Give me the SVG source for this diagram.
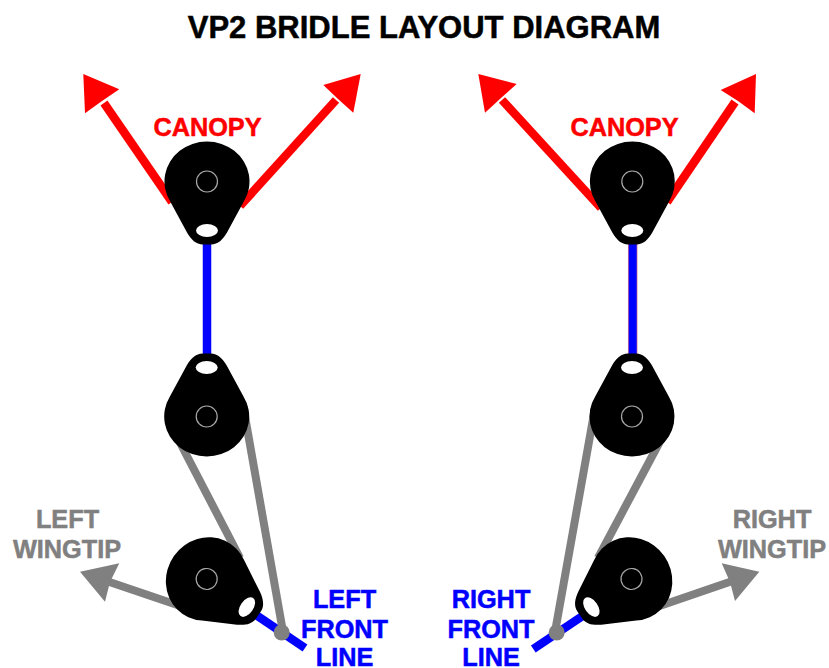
<svg xmlns="http://www.w3.org/2000/svg" width="829" height="668" viewBox="0 0 829 668">
<style>
text{font-family:"Liberation Sans",Arial,sans-serif;font-weight:700;text-anchor:middle;font-size:25.3px;stroke-width:.5px}
.title{font-size:31px;fill:#000;stroke:#000}
.r{fill:#f00;stroke:#f00}.g{fill:#808080;stroke:#808080}.b{fill:#00f;stroke:#00f}
.ar{fill:#f00}.ag{fill:#808080}
.lr{stroke:#f00;stroke-width:8.5;fill:none}
.lg{stroke:#808080;stroke-width:8;fill:none}
.lb{stroke:#00f;stroke-width:8.5;fill:none}
.ring{fill:none;stroke:#a8a8a8;stroke-width:1.2}
.hole{fill:#fff}
</style>
<defs>
<g id="block">
<path d="M-36.8,20 A42.5,40 0 1 1 36.8,20 L20,51 C16,58 11,63 4,63 L-4,63 C-11,63 -16,58 -20,51 Z" fill="#000"/>
<circle class="ring" r="10.5"/>
<ellipse class="hole" cy="49" rx="11" ry="6.5"/>
</g>
</defs>
<rect width="829" height="668" fill="#fff"/>
<g id="connectors">
<line class="lr" x1="172" y1="202" x2="104" y2="103"/>
<polygon class="ar" points="83.3,74 119.3,89.3 102,101 85,113.3"/>
<line class="lr" x1="240" y1="206" x2="336" y2="100"/>
<polygon class="ar" points="360.7,74 323.3,85 338,99 353.3,112.7"/>
<line class="lr" x1="601" y1="208" x2="502" y2="100"/>
<polygon class="ar" points="478.3,74 516.7,84 501,98 485,112.7"/>
<line class="lr" x1="667" y1="202" x2="735" y2="102"/>
<polygon class="ar" points="756,74 720.7,90 738,101 754.7,113.3"/>
<line x1="207" y1="235" x2="207" y2="365" class="lb"/>
<line x1="632.7" y1="235" x2="632.7" y2="365" stroke="#d87a90" stroke-width="9.5"/>
<line x1="632.7" y1="235" x2="632.7" y2="365" stroke="#00f" stroke-width="8"/>
<line class="lb" x1="250" y1="611" x2="305" y2="648"/>
<line class="lb" x1="590" y1="611" x2="533.3" y2="649"/>
<line class="lg" x1="175" y1="433" x2="240" y2="558"/>
<line class="lg" x1="243" y1="405" x2="283" y2="632"/>
<circle class="ag" cx="281.7" cy="632.5" r="8"/>
<line class="lg" x1="665" y1="432" x2="598" y2="558"/>
<line class="lg" x1="595" y1="408" x2="555" y2="632"/>
<circle class="ag" cx="556.7" cy="632.5" r="8"/>
<line class="lg" x1="195" y1="611" x2="108" y2="581.5"/>
<polygon class="ag" points="80,571.7 119.3,563.3 110,582 105,601.7"/>
<line class="lg" x1="645" y1="611" x2="731" y2="581.5"/>
<polygon class="ag" points="759.3,571.7 721.7,563.3 730,582 735,601"/>
</g>
<g id="block-left-canopy"><use href="#block" transform="translate(207,181.5)"/></g>
<g id="block-left-middle"><use href="#block" transform="translate(206.7,416.5) rotate(180)"/></g>
<g id="block-left-lower"><use href="#block" transform="translate(206.7,579) rotate(-55)"/></g>
<g id="block-right-canopy"><use href="#block" transform="translate(632.3,181.5)"/></g>
<g id="block-right-middle"><use href="#block" transform="translate(632,416.5) rotate(180)"/></g>
<g id="block-right-lower"><use href="#block" transform="translate(631.5,579) rotate(55)"/></g>
<g id="labels">
<text class="title" x="424" y="38">VP2 BRIDLE LAYOUT DIAGRAM</text>
<text class="r" x="207.5" y="136">CANOPY</text>
<text class="r" x="624.5" y="136">CANOPY</text>
<text class="g" x="67.5" y="528">LEFT</text>
<text class="g" x="67" y="558">WINGTIP</text>
<text class="g" x="772" y="528">RIGHT</text>
<text class="g" x="772" y="558">WINGTIP</text>
<text class="b" x="344.5" y="608">LEFT</text>
<text class="b" x="344.5" y="638">FRONT</text>
<text class="b" x="344.5" y="666">LINE</text>
<text class="b" x="491" y="608">RIGHT</text>
<text class="b" x="491" y="638">FRONT</text>
<text class="b" x="491" y="666">LINE</text>
</g>
</svg>
